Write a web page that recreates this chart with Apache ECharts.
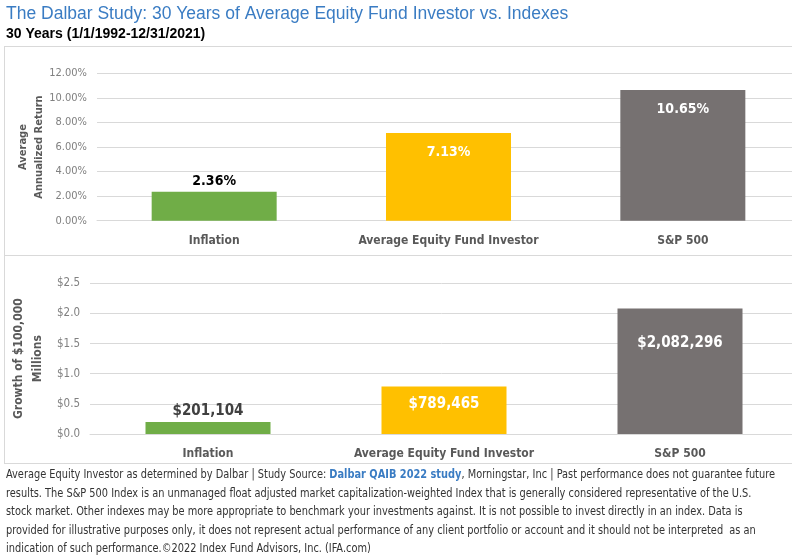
<!DOCTYPE html>
<html><head><meta charset="utf-8">
<script src="https://cdn.jsdelivr.net/npm/echarts@6/dist/echarts.min.js"></script>
<style>html,body{margin:0;padding:0;background:#fff}#c{width:792px;height:560px}</style>
</head><body><div id="c"></div><script>
const categories = ['Inflation', 'Average Equity Fund Investor', 'S&P 500'];
const annualReturnPct = [2.36, 7.13, 10.65];
const growthMillions = [0.201104, 0.789465, 2.082296];
const barColors = ['#70AD47', '#FFC000', '#767171'];
const titleText = 'The Dalbar Study: 30 Years of Average Equity Fund Investor vs. Indexes';
const subtitleText = '30 Years (1/1/1992-12/31/2021)';
const footerLink = 'Dalbar QAIB 2022 study';
const footerLines = [
  'Average Equity Investor as determined by Dalbar | Study Source: {b|' + footerLink + '}, Morningstar, Inc | Past performance does not guarantee future',
  'results. The S&P 500 Index is an unmanaged float adjusted market capitalization-weighted Index that is generally considered representative of the U.S.',
  'stock market. Other indexes may be more appropriate to benchmark your investments against. It is not possible to invest directly in an index. Data is',
  'provided for illustrative purposes only, it does not represent actual performance of any client portfolio or account and it should not be interpreted  as an',
  'indication of such performance.\u00A92022 Index Fund Advisors, Inc. (IFA.com)'
];

const F = '"Liberation Sans Narrow","Arial Narrow","DejaVu Sans Condensed",sans-serif';
const GRID = '#d9d9d9';
const chart = echarts.init(document.getElementById('c'), null, {renderer: 'canvas'});

// measure first footer line to compress the footer horizontally to its original width
const mctx = document.createElement('canvas').getContext('2d');
mctx.font = '12px ' + F;
const line1Plain = footerLines[0].replace('{b|' + footerLink + '}', '');
let w1 = mctx.measureText(line1Plain).width;
mctx.font = 'bold 12px ' + F;
w1 += mctx.measureText(footerLink).width;
const footerScale = Math.min(1, 769 / w1);

const topData = annualReturnPct.map((v, i) => ({
  value: v,
  itemStyle: {color: barColors[i]},
  label: i === 0 ? {position: 'top', color: '#000', distance: 3}
                 : {position: 'insideTop', color: '#fff', distance: 12}
}));
const botData = growthMillions.map((v, i) => ({
  value: v,
  itemStyle: {color: barColors[i]},
  label: i === 0 ? {position: 'top', color: '#404040', distance: 3}
       : i === 1 ? {position: 'insideTop', color: '#fff', distance: 10}
                 : {position: 'insideTop', color: '#fff', distance: 27}
}));

const xAxisBase = {
  type: 'category', data: categories,
  axisTick: {show: false},
  axisLine: {lineStyle: {color: GRID, width: 1}},
  axisLabel: {interval: 0, fontFamily: F, fontWeight: 'bold', fontSize: 12, color: '#595959', margin: 14}
};
const yAxisBase = {
  type: 'value', min: 0,
  axisLine: {show: false}, axisTick: {show: false},
  splitLine: {lineStyle: {color: GRID, width: 1}},
  nameLocation: 'middle', nameRotate: 90, nameMoveOverlap: false
};

const graphics = [
  {type: 'text', left: 6, top: 5, style: {text: titleText, fill: '#3a7cc3', fontSize: 17.5, fontFamily: '"Liberation Sans",Arial,sans-serif'}},
  {type: 'text', left: 6, top: 27, style: {text: subtitleText, fill: '#000', fontSize: 14, fontWeight: 'bold', fontFamily: '"Liberation Sans",Arial,sans-serif'}},
  {type: 'line', shape: {x1: 4, y1: 46.5, x2: 792, y2: 46.5}, style: {stroke: GRID, lineWidth: 1}},
  {type: 'line', shape: {x1: 4.5, y1: 46, x2: 4.5, y2: 464}, style: {stroke: GRID, lineWidth: 1}},
  {type: 'line', shape: {x1: 4, y1: 255.5, x2: 792, y2: 255.5}, style: {stroke: GRID, lineWidth: 1}},
  {type: 'line', shape: {x1: 4, y1: 463.5, x2: 792, y2: 463.5}, style: {stroke: GRID, lineWidth: 1}}
];
footerLines.forEach((t, i) => {
  graphics.push({
    type: 'text', x: 6, y: 475 + 18.5 * i, scaleX: footerScale,
    style: {
      text: t, fill: '#333', fontSize: 12, fontFamily: F, verticalAlign: 'middle', textVerticalAlign: 'middle',
      rich: {b: {fill: '#3a7cc3', color: '#3a7cc3', fontWeight: 'bold', fontSize: 12, fontFamily: F}}
    }
  });
});

chart.setOption({
  animation: false,
  backgroundColor: '#fff',
  grid: [
    {left: 97, top: 73.3, width: 703, height: 147.4, outerBoundsMode: 'none', containLabel: false},
    {left: 90, top: 283.3, width: 708, height: 150.7, outerBoundsMode: 'none', containLabel: false}
  ],
  xAxis: [
    Object.assign({gridIndex: 0}, xAxisBase),
    Object.assign({gridIndex: 1}, xAxisBase)
  ],
  yAxis: [
    Object.assign({}, yAxisBase, {
      gridIndex: 0, max: 12, interval: 2,
      axisLabel: {formatter: v => v.toFixed(2) + '%', fontFamily: F, fontSize: 11, color: '#808080', margin: 10},
      name: 'Average\nAnnualized Return', nameGap: 50,
      nameTextStyle: {fontFamily: F, fontWeight: 'bold', fontSize: 11, color: '#595959', lineHeight: 16}
    }),
    Object.assign({}, yAxisBase, {
      gridIndex: 1, max: 2.5, interval: 0.5,
      axisLabel: {formatter: v => '$' + v.toFixed(1), fontFamily: F, fontSize: 11.5, color: '#808080', margin: 10},
      name: 'Growth of $100,000\nMillions', nameGap: 43,
      nameTextStyle: {fontFamily: F, fontWeight: 'bold', fontSize: 12, color: '#595959', lineHeight: 19}
    })
  ],
  series: [
    {
      type: 'bar', xAxisIndex: 0, yAxisIndex: 0, barWidth: 125, data: topData,
      label: {show: true, formatter: p => p.value.toFixed(2) + '%', fontFamily: F, fontWeight: 'bold', fontSize: 14}
    },
    {
      type: 'bar', xAxisIndex: 1, yAxisIndex: 1, barWidth: 125, data: botData,
      label: {show: true, formatter: p => '$' + Math.round(p.value * 1e6).toLocaleString('en-US'), fontFamily: F, fontWeight: 'bold', fontSize: 15}
    }
  ],
  graphic: graphics
});
</script></body></html>
